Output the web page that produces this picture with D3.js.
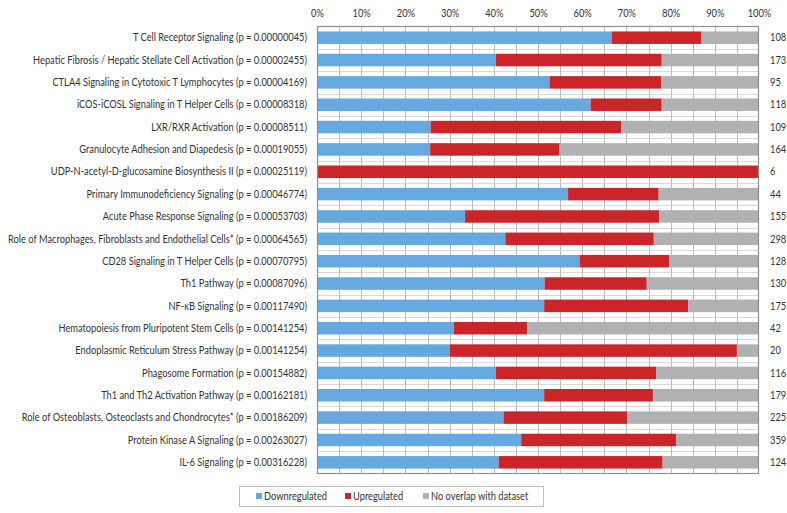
<!DOCTYPE html>
<html><head><meta charset="utf-8">
<script src="https://cdn.jsdelivr.net/npm/d3@7"></script>
<style>
html,body{margin:0;padding:0;background:#fff;}
svg text{font-family:Lato,"Open Sans",sans-serif;fill:#333;}
</style></head>
<body>
<svg id="chart" width="787" height="513"></svg>
<script>
const categories = [
 "T Cell Receptor Signaling (p = 0.00000045)",
 "Hepatic Fibrosis / Hepatic Stellate Cell Activation (p = 0.00002455)",
 "CTLA4 Signaling in Cytotoxic T Lymphocytes (p = 0.00004169)",
 "iCOS-iCOSL Signaling in T Helper Cells (p = 0.00008318)",
 "LXR/RXR Activation (p = 0.00008511)",
 "Granulocyte Adhesion and Diapedesis (p = 0.00019055)",
 "UDP-N-acetyl-D-glucosamine Biosynthesis II (p = 0.00025119)",
 "Primary Immunodeficiency Signaling (p = 0.00046774)",
 "Acute Phase Response Signaling (p = 0.00053703)",
 "Role of Macrophages, Fibroblasts and Endothelial Cells* (p = 0.00064565)",
 "CD28 Signaling in T Helper Cells (p = 0.00070795)",
 "Th1 Pathway (p = 0.00087096)",
 "NF-κB Signaling (p = 0.00117490)",
 "Hematopoiesis from Pluripotent Stem Cells (p = 0.00141254)",
 "Endoplasmic Reticulum Stress Pathway (p = 0.00141254)",
 "Phagosome Formation (p = 0.00154882)",
 "Th1 and Th2 Activation Pathway (p = 0.00162181)",
 "Role of Osteoblasts, Osteoclasts and Chondrocytes* (p = 0.00186209)",
 "Protein Kinase A Signaling (p = 0.00263027)",
 "IL-6 Signaling (p = 0.00316228)"
];
const downregulated = [66.7,40.5,52.6,61.9,25.7,25.6,0,56.8,33.5,42.6,59.4,51.5,51.4,31.0,30.0,40.5,51.4,42.2,46.2,41.1];
const upregulated   = [20.3,37.5,25.3,16.1,43.1,29.3,100,20.5,43.9,33.6,20.3,23.1,32.6,16.6,65.0,36.2,24.6,28.0,35.1,37.1];
const noOverlap     = [13.0,22.0,22.1,22.0,31.2,45.1,0,22.7,22.6,23.8,20.3,25.4,16.0,52.4,5.0,23.3,24.0,29.8,18.7,21.8];
const totals = [108,173,95,118,109,164,6,44,155,298,128,130,175,42,20,116,179,225,359,124];
const tickLabels = ["0%","10%","20%","30%","40%","50%","60%","70%","80%","90%","100%"];
const seriesNames = ["Downregulated","Upregulated","No overlap with dataset"];
const seriesColors = ["#65A9E0","#CC2529","#B1B1B4"];

const svg = d3.select("#chart");
const L = 317, R = 759, T = 26.5, B = 473.5;
const FS = "10.5px";

const x = d3.scaleLinear().domain([0,100]).range([L,R]);
const y = d3.scaleBand().domain(categories).range([T,B]).paddingInner(0.44).paddingOuter(0.22);
const band = d3.scaleBand().domain(categories).range([T,B]);

const rows = categories.map((c,i)=>({cat:c, down:downregulated[i], up:upregulated[i], none:noOverlap[i], total:totals[i]}));
const series = d3.stack().keys(["down","up","none"])(rows);

// gridlines
const g = svg.append("g");
g.selectAll("line.h").data(categories.slice(1)).enter().append("line")
 .attr("x1",L).attr("x2",R)
 .attr("y1",d=>Math.round(band(d))+0.5).attr("y2",d=>Math.round(band(d))+0.5)
 .attr("stroke","#d9d9d9").attr("stroke-width",1);
g.selectAll("line.v").data(d3.range(5,100,5)).enter().append("line")
 .attr("x1",d=>Math.round(x(d))+0.5).attr("x2",d=>Math.round(x(d))+0.5)
 .attr("y1",T).attr("y2",B)
 .attr("stroke","#bdbdbd").attr("stroke-width",1);

// bars
svg.append("g").selectAll("g").data(series).enter().append("g")
 .attr("fill",(d,i)=>seriesColors[i])
 .selectAll("rect").data(d=>d).enter().append("rect")
 .attr("x",d=>x(d[0])).attr("width",d=>Math.max(0,x(d[1])-x(d[0])))
 .attr("y",d=>y(d.data.cat)).attr("height",y.bandwidth());

// frame
svg.append("rect").attr("x",L+0.5).attr("y",T).attr("width",R-L-1).attr("height",B-T)
 .attr("fill","none").attr("stroke","#8f8f8f").attr("stroke-width",1.2);

// top axis
const xAxis = d3.axisTop(x).tickValues(d3.range(0,101,10)).tickFormat((d,i)=>tickLabels[i]).tickSize(0).tickPadding(0);
const ax = svg.append("g").attr("transform","translate(0,17)").call(xAxis);
ax.select(".domain").remove();
ax.selectAll("text").attr("font-size",FS).attr("font-family","Lato,\"Open Sans\",sans-serif").attr("fill","#333");

// category labels
const labels = svg.append("g").selectAll("text").data(categories).enter().append("text")
 .attr("x",307).attr("y",d=>y(d)+y.bandwidth()/2).attr("dy","0.35em")
 .attr("text-anchor","end").attr("font-size",FS).text(d=>d);

// totals
const tots = svg.append("g").selectAll("text").data(rows).enter().append("text")
 .attr("x",770).attr("y",d=>y(d.cat)+y.bandwidth()/2).attr("dy","0.35em")
 .attr("font-size",FS).text(d=>d.total);

// legend
const lg = svg.append("g");
lg.append("rect").attr("x",239.5).attr("y",486.5).attr("width",304).attr("height",20)
 .attr("fill","#fff").attr("stroke","#bfbfbf");
const legX = [256,345,423];
const legTexts = [];
seriesNames.forEach((n,i)=>{
  lg.append("rect").attr("x",legX[i]).attr("y",493).attr("width",6).attr("height",6).attr("fill",seriesColors[i]);
  legTexts.push(lg.append("text").attr("x",legX[i]+8).attr("y",496).attr("dy","0.35em").attr("font-size",FS).text(n));
});

// condense text to match the reference's narrow face
let maxW = 0;
labels.each(function(){ maxW = Math.max(maxW, this.getComputedTextLength()); });
const k = Math.min(1, 299 / maxW);
function condense(sel){
  sel.each(function(){
    const w = this.getComputedTextLength();
    d3.select(this).attr("textLength", w*k).attr("lengthAdjust","spacingAndGlyphs");
  });
}
condense(labels); condense(tots); condense(ax.selectAll("text"));
legTexts.forEach(condense);
</script>
</body></html>
